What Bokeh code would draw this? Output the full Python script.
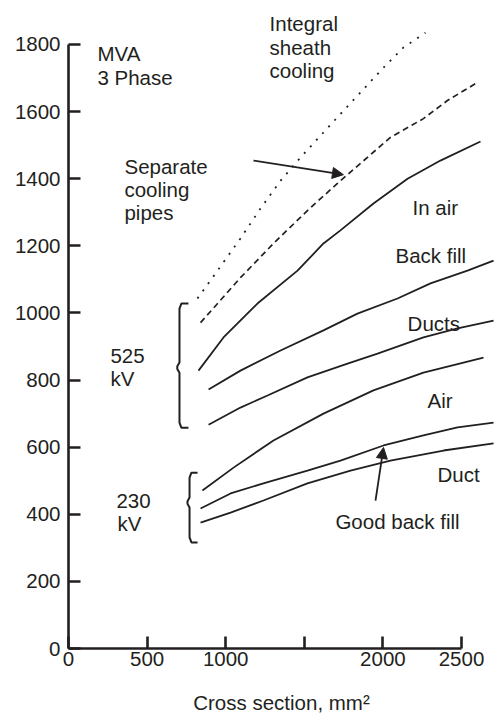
from bokeh.plotting import figure
from bokeh.models import Label, Arrow, NormalHead, FixedTicker, Range1d
from bokeh.embed import file_html
from bokeh.resources import INLINE

# ---------------- data ----------------
x_ticks = [0, 500, 1000, 1500, 2000, 2500]
x_tick_labels = ["0", "500", "1000", "", "2000", "2500"]
y_ticks = [0, 200, 400, 600, 800, 1000, 1200, 1400, 1600, 1800]

# 525 kV family
integral_x = [820, 916, 1094, 1221, 1349, 1476, 1679, 2004, 2131, 2271]
integral_y = [1043, 1105, 1222, 1311, 1394, 1463, 1567, 1731, 1791, 1835]

pipes_x = [840, 1094, 1304, 1520, 1711, 2048, 2258, 2411, 2602]
pipes_y = [971, 1105, 1207, 1305, 1386, 1523, 1579, 1633, 1687]

in_air_x = [827, 986, 1202, 1457, 1622, 1730, 1940, 2157, 2366, 2621]
in_air_y = [828, 927, 1028, 1126, 1207, 1246, 1326, 1400, 1454, 1511]

back_fill_x = [891, 1094, 1349, 1622, 1838, 2093, 2303, 2538, 2704]
back_fill_y = [772, 828, 888, 948, 998, 1043, 1088, 1126, 1156]

ducts_x = [891, 1094, 1266, 1520, 1775, 1966, 2258, 2475, 2704]
ducts_y = [667, 718, 754, 808, 849, 879, 927, 954, 977]

# 230 kV family
air_x = [852, 1050, 1304, 1622, 1940, 2258, 2640]
air_y = [471, 539, 620, 700, 769, 822, 867]

good_back_fill_x = [840, 1031, 1240, 1520, 1730, 2004, 2258, 2475, 2704]
good_back_fill_y = [417, 462, 492, 530, 560, 605, 635, 659, 673]

duct_x = [840, 1031, 1240, 1520, 1794, 2048, 2386, 2704]
duct_y = [375, 405, 441, 492, 530, 560, 590, 611]

# voltage groups (bracket spans on the MVA axis)
group_names = ["525", "230"]
group_low = [658, 316]
group_high = [1028, 524]
group_mid = [837, 435]

# ---------------- styling ----------------
INK = "#231f20"
FONT = "Liberation Sans"
FS = "20.5px"

p = figure(width=494, height=721, title=None,
           x_range=Range1d(0, 2710), y_range=Range1d(0, 1931),
           output_backend="svg", toolbar_location=None,
           min_border_left=68, min_border_right=0,
           min_border_top=0, min_border_bottom=73)
p.outline_line_color = None
p.xgrid.visible = False
p.ygrid.visible = False
p.background_fill_color = "white"
p.border_fill_color = "white"

for ax, ticks in ((p.xaxis[0], x_ticks), (p.yaxis[0], y_ticks)):
    ax.ticker = FixedTicker(ticks=ticks)
    ax.axis_line_width = 2.6
    ax.axis_line_color = INK
    ax.major_tick_line_width = 2.6
    ax.major_tick_line_color = INK
    ax.major_tick_in = 12
    ax.major_tick_out = 0
    ax.minor_tick_line_color = None
    ax.major_label_text_font = FONT
    ax.major_label_text_font_size = FS
    ax.major_label_text_color = INK

p.xaxis[0].bounds = (0, 2500)
p.yaxis[0].bounds = (0, 1800)
p.xaxis[0].major_label_overrides = {t: l for t, l in zip(x_ticks, x_tick_labels)}
p.xaxis[0].major_label_standoff = 3
p.yaxis[0].major_label_standoff = 8

p.xaxis[0].axis_label = "Cross section, mm\u00b2"
p.xaxis[0].axis_label_text_font = FONT
p.xaxis[0].axis_label_text_font_size = FS
p.xaxis[0].axis_label_text_font_style = "normal"
p.xaxis[0].axis_label_text_color = INK
p.xaxis[0].axis_label_standoff = 22

# ---------------- curves ----------------
LW = 1.8
p.line(integral_x, integral_y, line_color=INK, line_width=1.8, line_dash="2 7")
p.line(pipes_x, pipes_y, line_color=INK, line_width=1.7, line_dash="6 4")
for xs, ys in ((in_air_x, in_air_y), (back_fill_x, back_fill_y), (ducts_x, ducts_y),
               (air_x, air_y), (good_back_fill_x, good_back_fill_y), (duct_x, duct_y)):
    p.line(xs, ys, line_color=INK, line_width=LW)

# ---------------- brackets ----------------
bracket_geom = [(706, 763, 692), (770, 821, 757)]  # vertical x, serif end x, tip x
for (xv, xs_, xt), lo, hi, mid in zip(bracket_geom, group_low, group_high, group_mid):
    bx = [xs_, xv + 12, xv, xv, xt, xt, xv, xv, xv + 12, xs_]
    by = [hi, hi, hi - 15, mid + 15, mid + 4, mid - 4, mid - 15, lo + 15, lo, lo]
    p.line(bx, by, line_color=INK, line_width=2.0)

# ---------------- text ----------------
def put(text, x, y, size=FS):
    p.add_layout(Label(x=x, y=y, text=text, text_font=FONT, text_font_size=size,
                       text_color=INK, text_baseline="alphabetic", text_align="left"))

label_texts = ["MVA", "3 Phase",
               "Integral", "sheath", "cooling",
               "Separate", "cooling", "pipes",
               "In air", "Back fill", "Ducts", "Air", "Duct", "Good back fill",
               "525", "kV", "230", "kV"]
label_x = [184, 184,
           1279, 1279, 1279,
           356, 356, 356,
           2188, 2080, 2157, 2284, 2347, 1698,
           267, 267, 305, 311]
label_y = [1773, 1702,
           1862, 1791, 1722,
           1436, 1368, 1299,
           1314, 1171, 968, 739, 518, 379,
           873, 805, 441, 372]
for t, x, y in zip(label_texts, label_x, label_y):
    put(t, x, y)

# ---------------- arrows ----------------
arrow_start = [(1177, 1454), (1953, 441)]
arrow_end = [(1749, 1412), (2004, 599)]
for (xs0, ys0), (xe, ye) in zip(arrow_start, arrow_end):
    p.add_layout(Arrow(end=NormalHead(size=11, fill_color=INK, line_color=INK, line_width=1),
                       x_start=xs0, y_start=ys0, x_end=xe, y_end=ye,
                       line_color=INK, line_width=1.8))

open("out.html", "w").write(file_html(p, INLINE))
